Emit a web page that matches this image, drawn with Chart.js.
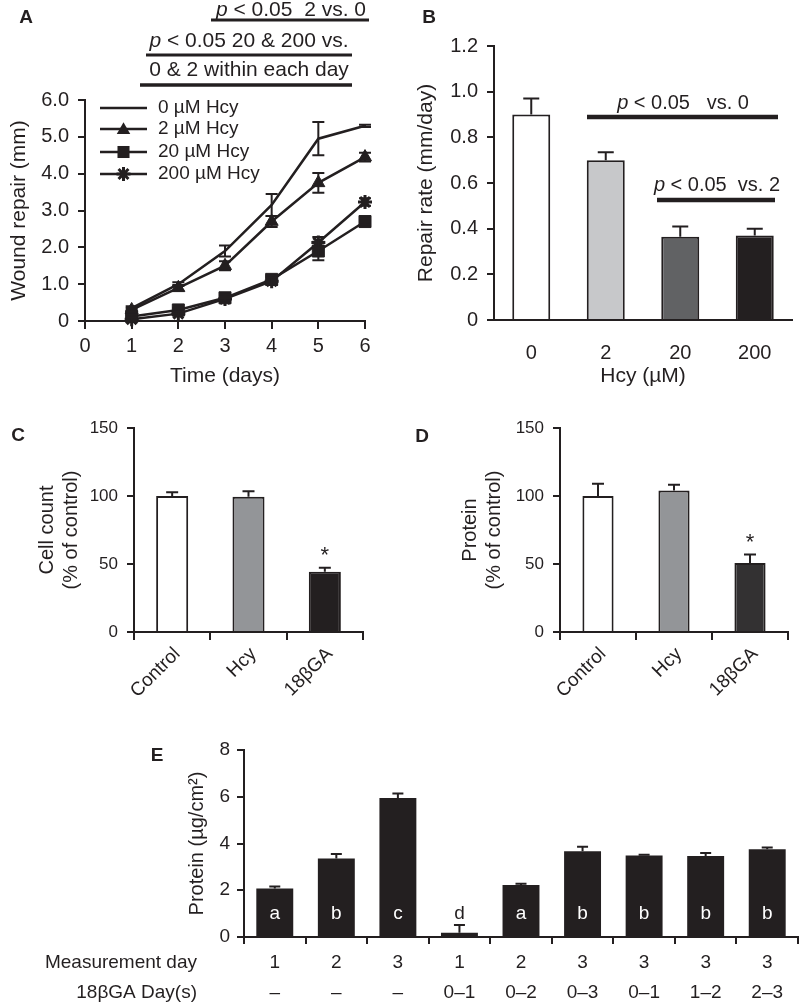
<!DOCTYPE html>
<html><head><meta charset="utf-8">
<script src="https://cdn.jsdelivr.net/npm/chart.js@4.4.1/dist/chart.umd.min.js"></script>
<style>
html,body{margin:0;padding:0;background:#fff;}
#wrap{position:relative;width:800px;height:1004px;overflow:hidden;background:#fff;}
canvas{position:absolute;}
</style></head><body>
<div id="wrap">
<canvas id="cA" width="400" height="395" style="left:0;top:0"></canvas>
<canvas id="cB" width="400" height="395" style="left:400px;top:0"></canvas>
<canvas id="cC" width="400" height="300" style="left:0;top:400px"></canvas>
<canvas id="cD" width="400" height="300" style="left:400px;top:400px"></canvas>
<canvas id="cE" width="800" height="284" style="left:0;top:720px"></canvas>
</div>
<script>
// ---------- DATA ----------
// Panel A: wound repair over time
const daysA = [1, 2, 3, 4, 5, 6];
const seriesLabelsA = ['0 µM Hcy', '2 µM Hcy', '20 µM Hcy', '200 µM Hcy'];
const repairHcy0 = [0.35, 1.0, 1.9, 3.15, 4.95, 5.3];
const repairHcy0Err = [0.05, 0.05, 0.15, 0.3, 0.45, 0.03];
const repairHcy2 = [0.3, 0.9, 1.5, 2.7, 3.75, 4.45];
const repairHcy2Err = [0.05, 0.08, 0.12, 0.15, 0.27, 0.12];
const repairHcy20 = [0.12, 0.3, 0.63, 1.13, 1.9, 2.7];
const repairHcy20Err = [0.05, 0.05, 0.08, 0.1, 0.25, 0.08];
const repairHcy200 = [0.05, 0.2, 0.6, 1.08, 2.13, 3.23];
const repairHcy200Err = [0.05, 0.05, 0.05, 0.1, 0.15, 0.1];
const ticksA_y = [0, 1, 2, 3, 4, 5, 6];

// Panel B: repair rate
const hcyCatsB = ['0', '2', '20', '200'];
const rateB = [0.90, 0.70, 0.365, 0.37];
const rateErrB = [0.07, 0.035, 0.045, 0.03];

// Panel C / D
const treatCats = ['Control', 'Hcy', '18βGA'];
const cellCountC = [100, 99.5, 44.3];
const cellCountErrC = [2.7, 4, 3];
const proteinD = [100, 104, 50.7];
const proteinErrD = [9, 4.2, 6.2];

// Panel E
const measDayE = ['1', '2', '3', '1', '2', '3', '3', '3', '3'];
const gaDaysE = ['–', '–', '–', '0–1', '0–2', '0–3', '0–1', '1–2', '2–3'];
const proteinE = [2.08, 3.36, 5.95, 0.18, 2.22, 3.67, 3.49, 3.46, 3.75];
const proteinErrE = [0.08, 0.19, 0.19, 0.33, 0.06, 0.19, 0.03, 0.13, 0.08];
const lettersE = ['a', 'b', 'c', 'd', 'a', 'b', 'b', 'b', 'b'];

// ---------- STYLE ----------
const INK = '#231f20';
const FAMILY = "'Liberation Sans', Arial, Helvetica, sans-serif";
Chart.defaults.font.family = FAMILY;
Chart.defaults.color = INK;

function font(size, style) { return (style ? style + ' ' : '') + size + 'px ' + FAMILY; }

function drawRich(ctx, parts, cx, cy, size) {
  ctx.save();
  ctx.textBaseline = 'middle';
  ctx.textAlign = 'left';
  ctx.fillStyle = INK;
  let total = 0;
  parts.forEach(p => { ctx.font = font(size, p.i ? 'italic' : ''); p.w = ctx.measureText(p.t).width; total += p.w; });
  let x = cx - total / 2;
  parts.forEach(p => { ctx.font = font(size, p.i ? 'italic' : ''); ctx.fillText(p.t, x, cy); x += p.w; });
  ctx.restore();
}
function hline(ctx, x1, x2, y, w) {
  ctx.save(); ctx.strokeStyle = INK; ctx.lineWidth = w;
  ctx.beginPath(); ctx.moveTo(x1, y); ctx.lineTo(x2, y); ctx.stroke(); ctx.restore();
}
function panelLetter(ctx, t, x, y) {
  ctx.save(); ctx.font = font(19, 'bold'); ctx.fillStyle = INK;
  ctx.textAlign = 'center'; ctx.textBaseline = 'middle'; ctx.fillText(t, x, y); ctx.restore();
}

function errorBars(errsByDs, opt) {
  return {
    id: 'errorBars',
    afterDatasetsDraw(chart) {
      const ctx = chart.ctx, ys = chart.scales.y;
      chart.data.datasets.forEach((ds, di) => {
        const errs = errsByDs[di];
        if (!errs) return;
        const meta = chart.getDatasetMeta(di);
        meta.data.forEach((el, i) => {
          const raw = ds.data[i];
          const v = (typeof raw === 'object') ? raw.y : raw;
          const e = errs[i];
          const top = ys.getPixelForValue(v + e);
          const bot = opt.both ? ys.getPixelForValue(Math.max(v - e, 0)) : ys.getPixelForValue(v);
          const c = opt.cap / 2;
          ctx.save();
          ctx.strokeStyle = INK; ctx.lineWidth = opt.lw;
          ctx.beginPath();
          ctx.moveTo(el.x, bot); ctx.lineTo(el.x, top);
          ctx.moveTo(el.x - c, top); ctx.lineTo(el.x + c, top);
          if (opt.both) { ctx.moveTo(el.x - c, bot); ctx.lineTo(el.x + c, bot); }
          ctx.stroke();
          ctx.restore();
        });
      });
    }
  };
}

function axisGrid(len) {
  return { drawOnChartArea: false, drawTicks: true, tickLength: len, color: INK, lineWidth: 2 };
}
const BORDER = { display: true, color: INK, width: 2 };

// ---------- PANEL A ----------
const pts = vals => daysA.map((d, i) => ({ x: d, y: vals[i] }));
const lineBase = { borderColor: INK, backgroundColor: INK, pointBackgroundColor: INK, pointBorderColor: INK, borderWidth: 2.5, clip: false };
const legendA = {
  id: 'legendA',
  afterDraw(chart) {
    const ctx = chart.ctx, a = chart.chartArea;
    const rows = [8, 29, 52, 74];
    chart.data.datasets.forEach((ds, i) => {
      const y = a.top + rows[i];
      const x1 = a.left + 15, x2 = a.left + 62, xm = (x1 + x2) / 2;
      hline(ctx, x1, x2, y, 2.5);
      ctx.save(); ctx.fillStyle = INK; ctx.strokeStyle = INK;
      const r = ds.pointRadius;
      if (ds.pointStyle === 'triangle') {
        const s = r * 0.9;
        ctx.beginPath(); ctx.moveTo(xm, y - s); ctx.lineTo(xm + s, y + s * 0.75); ctx.lineTo(xm - s, y + s * 0.75); ctx.closePath(); ctx.fill();
      } else if (ds.pointStyle === 'rect') {
        const s = r * Math.SQRT1_2; ctx.fillRect(xm - s, y - s, 2 * s, 2 * s);
      } else if (ds.pointStyle === 'star') {
        ctx.lineWidth = ds.pointBorderWidth; ctx.beginPath();
        for (let k = 0; k < 4; k++) { const ang = k * Math.PI / 4; ctx.moveTo(xm - Math.cos(ang) * r, y - Math.sin(ang) * r); ctx.lineTo(xm + Math.cos(ang) * r, y + Math.sin(ang) * r); }
        ctx.stroke();
      }
      ctx.font = font(19); ctx.textBaseline = 'middle'; ctx.textAlign = 'left';
      ctx.fillText(ds.label, a.left + 73, y);
      ctx.restore();
    });
    // annotations above
    drawRich(ctx, [{ t: 'p', i: true }, { t: ' < 0.05  2 vs. 0' }], 291, 10, 21);
    hline(ctx, 211, 369, 20, 3);
    drawRich(ctx, [{ t: 'p', i: true }, { t: ' < 0.05 20 & 200 vs.' }], 249, 41, 21);
    hline(ctx, 146, 352, 55, 3);
    drawRich(ctx, [{ t: '0 & 2 within each day' }], 249, 70, 21);
    hline(ctx, 140, 352, 85, 3.5);
    panelLetter(ctx, 'A', 26, 18);
  }
};
new Chart(document.getElementById('cA'), {
  type: 'line',
  data: {
    datasets: [
      Object.assign({ label: seriesLabelsA[0], data: pts(repairHcy0), pointRadius: 0, pointStyle: 'circle' }, lineBase),
      Object.assign({ label: seriesLabelsA[1], data: pts(repairHcy2), pointRadius: 7.5, pointStyle: 'triangle', pointBorderWidth: 1 }, lineBase),
      Object.assign({ label: seriesLabelsA[2], data: pts(repairHcy20), pointRadius: 8.5, pointStyle: 'rect', pointBorderWidth: 1 }, lineBase),
      Object.assign({ label: seriesLabelsA[3], data: pts(repairHcy200), pointRadius: 7, pointStyle: 'star', pointBorderWidth: 3 }, lineBase)
    ]
  },
  options: {
    responsive: false, animation: false, devicePixelRatio: 1,
    layout: { padding: { left: 0, right: 35, top: 100, bottom: 0 } },
    plugins: { legend: { display: false }, tooltip: { enabled: false } },
    scales: {
      x: {
        type: 'linear', min: 0, max: 6,
        ticks: { stepSize: 1, padding: 5, font: { size: 20 }, color: INK },
        grid: axisGrid(8), border: BORDER,
        title: { display: true, text: 'Time (days)', font: { size: 21 }, color: INK, padding: { top: 0, bottom: 6 } },
        afterFit: s => { s.height = 74; }
      },
      y: {
        min: 0, max: 6,
        afterBuildTicks: s => { s.ticks = ticksA_y.map(v => ({ value: v })); },
        ticks: { padding: 9, font: { size: 20 }, color: INK, callback: v => v === 0 ? '0' : v.toFixed(1) },
        grid: axisGrid(7), border: BORDER,
        title: { display: true, text: 'Wound repair (mm)', font: { size: 21 }, color: INK, padding: { top: 7, bottom: 0 } },
        afterFit: s => { s.width = 85; }
      }
    }
  },
  plugins: [errorBars([repairHcy0Err, repairHcy2Err, repairHcy20Err, repairHcy200Err], { both: true, cap: 12, lw: 2 }), legendA]
});

// ---------- PANEL B ----------
const annoB = {
  id: 'annoB',
  afterDraw(chart) {
    const ctx = chart.ctx;
    drawRich(ctx, [{ t: 'p', i: true }, { t: ' < 0.05   vs. 0' }], 283, 103, 20);
    hline(ctx, 187, 378, 117, 4.5);
    drawRich(ctx, [{ t: 'p', i: true }, { t: ' < 0.05  vs. 2' }], 317, 185, 20);
    hline(ctx, 257, 375, 200, 4.5);
    panelLetter(ctx, 'B', 29, 18);
  }
};
new Chart(document.getElementById('cB'), {
  type: 'bar',
  data: {
    labels: hcyCatsB,
    datasets: [{
      data: rateB, backgroundColor: ['#ffffff', '#c7c8ca', '#616264', '#231f20'],
      borderColor: INK, borderWidth: 2, barPercentage: 0.51, categoryPercentage: 1
    }]
  },
  options: {
    responsive: false, animation: false, devicePixelRatio: 1,
    layout: { padding: { left: 0, right: 8, top: 46, bottom: 0 } },
    plugins: { legend: { display: false }, tooltip: { enabled: false } },
    scales: {
      x: {
        ticks: { padding: 13, font: { size: 20 }, color: INK },
        grid: { display: false }, border: BORDER,
        title: { display: true, text: 'Hcy (µM)', font: { size: 21 }, color: INK, padding: { top: 0, bottom: 6 } },
        afterFit: s => { s.height = 75; }
      },
      y: {
        min: 0, max: 1.2,
        ticks: { stepSize: 0.2, padding: 9, font: { size: 20 }, color: INK, callback: v => v === 0 ? '0' : v.toFixed(1) },
        grid: axisGrid(7), border: BORDER,
        title: { display: true, text: 'Repair rate (mm/day)', font: { size: 21 }, color: INK, padding: { top: 14, bottom: 0 } },
        afterFit: s => { s.width = 94; }
      }
    }
  },
  plugins: [errorBars([rateErrB], { both: false, cap: 16, lw: 2 }), annoB]
});

// ---------- PANELS C & D ----------
function starPlugin(letter, lx, ly, errs) {
  return {
    id: 'star' + letter,
    afterDraw(chart) {
      const ctx = chart.ctx, ys = chart.scales.y;
      const meta = chart.getDatasetMeta(0);
      const vals = chart.data.datasets[0].data;
      const i = vals.length - 1;
      const top = ys.getPixelForValue(vals[i] + errs[i]);
      ctx.save(); ctx.font = font(22); ctx.fillStyle = INK; ctx.textAlign = 'center'; ctx.textBaseline = 'middle';
      ctx.fillText('*', meta.data[i].x, top - 12);
      ctx.restore();
      panelLetter(ctx, letter, lx, ly);
    }
  };
}
function pctChart(id, vals, errs, colors, title, leftW, rightPad, titlePad, barPct, letter, lx, ly) {
  new Chart(document.getElementById(id), {
    type: 'bar',
    data: {
      labels: treatCats,
      datasets: [{ data: vals, backgroundColor: colors, borderColor: INK, borderWidth: 2, barPercentage: barPct, categoryPercentage: 1 }]
    },
    options: {
      responsive: false, animation: false, devicePixelRatio: 1,
      layout: { padding: { left: 0, right: rightPad, top: 28, bottom: 0 } },
      plugins: { legend: { display: false }, tooltip: { enabled: false } },
      scales: {
        x: {
          ticks: { font: { size: 19 }, color: INK, minRotation: 45, maxRotation: 45, autoSkip: false, padding: 3, labelOffset: 5 },
          grid: Object.assign(axisGrid(8), { offset: true }), border: BORDER,
          afterFit: s => { s.height = 68; }
        },
        y: {
          min: 0, max: 150,
          ticks: { stepSize: 50, padding: 9, font: { size: 17 }, color: INK },
          grid: axisGrid(7), border: BORDER,
          title: { display: true, text: title, font: { size: 20 }, color: INK, padding: { top: titlePad, bottom: 0 } },
          afterFit: s => { s.width = leftW; }
        }
      }
    },
    plugins: [errorBars([errs], { both: false, cap: 12, lw: 2 }), starPlugin(letter, lx, ly, errs)]
  });
}
pctChart('cC', cellCountC, cellCountErrC, ['#ffffff', '#939598', '#231f20'], ['Cell count', '(% of control)'], 134, 37, 35, 0.42, 'C', 18, 36);
pctChart('cD', proteinD, proteinErrD, ['#ffffff', '#939598', '#333132'], ['Protein', '(% of control)'], 160, 12, 58, 0.41, 'D', 22, 37);

// ---------- PANEL E ----------
const annoE = {
  id: 'annoE',
  afterDraw(chart) {
    const ctx = chart.ctx, ys = chart.scales.y, a = chart.chartArea;
    const meta = chart.getDatasetMeta(0);
    const yL = ys.getPixelForValue(1.0);
    ctx.save(); ctx.font = font(19); ctx.textAlign = 'center'; ctx.textBaseline = 'middle';
    meta.data.forEach((el, i) => {
      ctx.fillStyle = proteinE[i] > 1.5 ? '#ffffff' : INK;
      ctx.fillText(lettersE[i], el.x, yL);
    });
    ctx.fillStyle = INK; ctx.textAlign = 'right';
    ctx.fillText('Measurement day', 197, a.bottom + 26);
    ctx.fillText('18βGA Day(s)', 197, a.bottom + 56);
    ctx.restore();
    panelLetter(ctx, 'E', 157, 36);
  }
};
new Chart(document.getElementById('cE'), {
  type: 'bar',
  data: {
    labels: measDayE.map((m, i) => [m, gaDaysE[i]]),
    datasets: [{ data: proteinE, backgroundColor: INK, borderColor: INK, borderWidth: 0, barPercentage: 0.6, categoryPercentage: 1 }]
  },
  options: {
    responsive: false, animation: false, devicePixelRatio: 1,
    layout: { padding: { left: 175, right: 2, top: 30, bottom: 0 } },
    plugins: { legend: { display: false }, tooltip: { enabled: false } },
    scales: {
      x: {
        ticks: { font: { size: 19, lineHeight: 30 / 19 }, color: INK, maxRotation: 0, autoSkip: false, padding: 4 },
        grid: Object.assign(axisGrid(7), { offset: true }), border: BORDER,
        afterFit: s => { s.height = 67; }
      },
      y: {
        min: 0, max: 8,
        ticks: { stepSize: 2, padding: 7, font: { size: 19 }, color: INK },
        grid: axisGrid(7), border: BORDER,
        title: { display: true, text: 'Protein (µg/cm²)', font: { size: 20 }, color: INK, padding: { top: 10, bottom: 0 } },
        afterFit: s => { s.width = 69; }
      }
    }
  },
  plugins: [errorBars([proteinErrE], { both: false, cap: 11, lw: 2 }), annoE]
});
</script>
</body></html>
